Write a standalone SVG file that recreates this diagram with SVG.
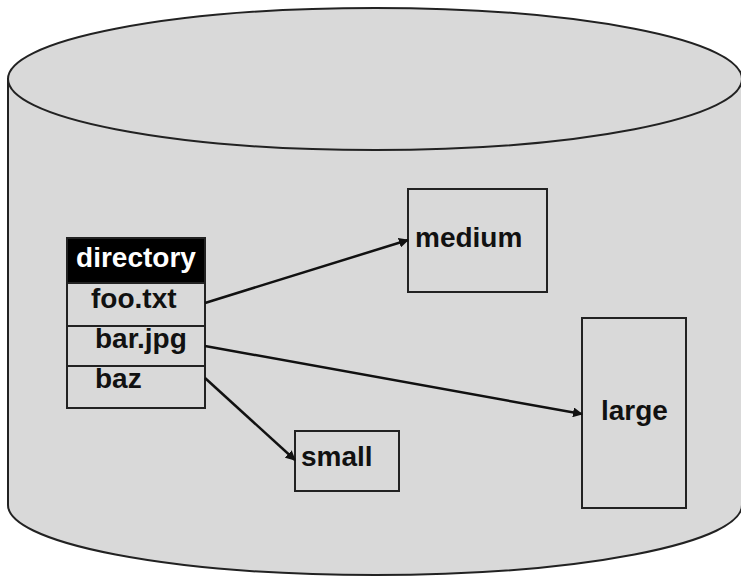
<svg xmlns="http://www.w3.org/2000/svg" width="741" height="577" viewBox="0 0 741 577">
<defs>
<style>
.shape{fill:#d9d9d9;stroke:#222;stroke-width:2}
.box{fill:#d9d9d9;stroke:#222;stroke-width:2}
.lbl{font-family:"Liberation Sans",Arial,sans-serif;font-weight:bold;font-size:28px;fill:#111}
.conn{stroke:#111;stroke-width:2.5;fill:none;marker-end:url(#ah)}
</style>
<marker id="ah" viewBox="0 0 10 10" refX="9" refY="5" markerWidth="4" markerHeight="4" orient="auto" markerUnits="strokeWidth">
<path d="M0,0 L10,5 L0,10 z" fill="#111"/>
</marker>
</defs>
<rect width="741" height="577" fill="#ffffff"/>
<g id="cylinder">
<path class="shape" d="M8,79 L8,505 A367,70 0 0,0 742,505 L742,79 Z"/>
<ellipse class="shape" cx="375" cy="79" rx="367" ry="71"/>
</g>
<g id="directory">
<rect x="67" y="238" width="138" height="45" fill="#000" stroke="#222" stroke-width="2"/>
<text x="136" y="267" text-anchor="middle" class="lbl" style="fill:#fff">directory</text>
<rect class="box" x="67" y="283" width="138" height="43"/>
<text x="91" y="308" class="lbl">foo.txt</text>
<rect class="box" x="67" y="326" width="138" height="40"/>
<text x="95" y="348" class="lbl">bar.jpg</text>
<rect class="box" x="67" y="366" width="138" height="42"/>
<text x="95" y="388" class="lbl">baz</text>
</g>
<g id="medium">
<rect class="box" x="408" y="189" width="139" height="103"/>
<text x="415" y="247" class="lbl">medium</text>
</g>
<g id="small">
<rect class="box" x="295" y="431" width="104" height="60"/>
<text x="301" y="466" class="lbl">small</text>
</g>
<g id="large">
<rect class="box" x="582" y="318" width="104" height="190"/>
<text x="601" y="420" class="lbl">large</text>
</g>
<g id="connectors">
<line class="conn" x1="205" y1="303" x2="408" y2="240"/>
<line class="conn" x1="205" y1="346" x2="582" y2="414"/>
<line class="conn" x1="205" y1="378" x2="295" y2="460"/>
</g>
</svg>
